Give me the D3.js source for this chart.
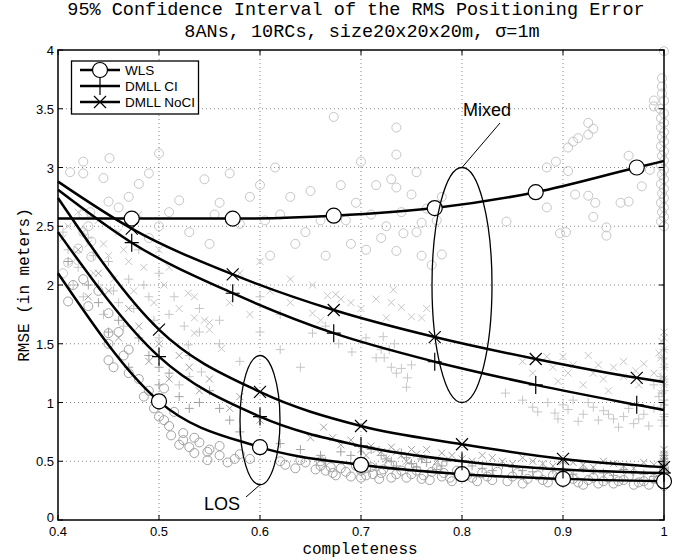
<!DOCTYPE html>
<html>
<head>
<meta charset="utf-8">
<script src="https://cdn.jsdelivr.net/npm/d3@7"></script>
<style>
  body { margin: 0; background: #fff; }
  svg { display: block; }
</style>
</head>
<body>
<div id="chart"></div>
<script>
// fitted curves, LOS scenario (markers every 0.1)
const losX = [0.4, 0.5, 0.6, 0.7, 0.8, 0.9, 1.0];
const losWls = [2.10, 1.01, 0.62, 0.47, 0.39, 0.35, 0.33];
const losCi = [2.45, 1.39, 0.88, 0.63, 0.50, 0.43, 0.40];
const losNoCi = [2.74, 1.62, 1.09, 0.80, 0.645, 0.52, 0.45];

// fitted curves, mixed scenario (markers shifted)
const mixX = [0.4, 0.473, 0.573, 0.673, 0.773, 0.873, 0.973, 1.0];
const mixWls = [2.565, 2.565, 2.565, 2.59, 2.655, 2.79, 3.0, 3.055];
const mixCi = [2.81, 2.36, 1.93, 1.59, 1.347, 1.15, 0.98, 0.936];
const mixNoCi = [2.88, 2.48, 2.09, 1.787, 1.557, 1.37, 1.21, 1.175];

// raw scatter, mixed (light grey)
const mixWlsPts = [
  [0.412,2.96],[0.425,3.05],[0.425,2.95],[0.445,2.91],[0.451,3.08],[0.45,2.71],[0.46,2.66],[0.432,2.62],
  [0.425,2.6],[0.43,2.5],[0.425,2.45],[0.433,2.37],[0.42,2.31],[0.433,2.24],[0.41,2.19],[0.405,2.1],
  [0.47,2.75],[0.48,2.86],[0.49,2.95],[0.5,2.5],[0.51,2.62],[0.52,2.72],[0.5,3.12],[0.53,2.45],
  [0.49,2.4],[0.455,3.5],[0.545,2.9],[0.56,2.7],[0.58,2.52],[0.55,2.35],[0.6,2.85],[0.62,2.6],
  [0.61,2.25],[0.645,2.45],[0.63,2.75],[0.66,2.55],[0.673,3.43],[0.68,2.85],[0.69,2.35],[0.7,3.05],
  [0.71,2.6],[0.72,2.4],[0.73,2.9],[0.74,2.62],[0.735,3.34],[0.735,3.11],[0.755,2.96],[0.735,2.83],
  [0.75,2.77],[0.742,2.44],[0.735,2.29],[0.76,2.25],[0.76,2.53],[0.775,2.55],[0.77,2.17],[0.78,2.26],
  [0.78,2.75],[0.844,2.54],[0.884,2.66],[0.884,3.0],[0.893,3.05],[0.905,2.97],[0.91,3.22],[0.905,3.17],
  [0.915,3.25],[0.925,3.38],[0.93,3.33],[0.925,3.28],[0.912,2.77],[0.925,2.76],[0.932,2.7],[0.897,2.44],
  [0.903,2.45],[0.943,2.49],[0.943,2.42],[0.93,2.58],[0.957,2.7],[0.965,2.71],[0.965,3.1],[0.986,2.98],
  [0.978,2.84],[0.99,3.57],[0.99,3.52],
  [0.555,2.6],[0.57,2.95],[0.59,2.75],[0.605,2.55],[0.615,3.0],[0.635,2.35],[0.65,2.8],[0.665,2.25],
  [0.685,2.55],[0.695,2.7],[0.705,2.3],[0.715,2.85],[0.725,2.5],[0.755,2.45],[0.765,2.65],
  [1.0,3.99],[0.998,3.76],[0.998,3.69],[0.998,3.63],[1.0,3.57],[0.996,3.5],[1.0,3.46],[0.997,3.42],
  [1.0,3.38],[0.997,3.34],[1.0,3.3],[0.998,3.26],[1.0,3.22],[0.997,3.18],[1.0,3.14],[0.998,3.1],
  [1.0,3.06],[0.997,3.02],[1.0,2.98],[0.998,2.94],[1.0,2.9],[0.997,2.86],[1.0,2.82],[0.998,2.78],
  [1.0,2.74],[0.997,2.7],[1.0,2.66],[0.998,2.62],[1.0,2.58],[0.997,2.54],[1.0,2.5]
];
const mixCiPts = [
  [0.41,2.3],[0.42,2.15],[0.43,2.4],[0.44,2.0],[0.45,2.2],[0.46,1.85],[0.47,2.05],[0.48,2.3],
  [0.49,1.9],[0.5,2.1],[0.51,1.75],[0.529,1.49],[0.54,1.6],[0.53,1.4],[0.542,1.26],[0.53,1.22],
  [0.52,1.15],[0.56,1.7],[0.6,1.9],[0.62,1.75],[0.652,1.59],[0.665,1.65],[0.678,1.5],[0.691,1.43],
  [0.705,1.55],[0.715,1.38],[0.72,1.45],[0.73,1.3],[0.745,1.13],[0.75,1.32],[0.722,1.56],[0.733,1.5],
  [0.728,1.45],[0.723,1.38],[0.74,1.29],[0.746,1.21],[0.735,1.25],[0.843,1.08],[0.87,0.96],[0.885,1.0],
  [0.892,0.91],[0.9,0.98],[0.91,1.02],[0.92,0.9],[0.93,0.96],[0.935,0.85],[0.945,0.9],[0.955,0.79],
  [0.96,0.88],[0.97,0.82],[0.98,0.9],
  [0.405,2.45],[0.415,2.0],[0.425,1.9],[0.435,2.25],[0.445,1.75],[0.455,1.95],[0.465,1.65],[0.475,1.8],
  [0.485,2.0],[0.495,1.7],[0.5,1.55],[0.515,1.9],[0.525,1.65],[0.54,1.8],[0.56,1.5],[0.58,1.35],
  [0.6,1.6],[0.62,1.45],[0.64,1.3],
  [0.86,1.02],[0.875,0.92],[0.895,0.86],[0.905,0.94],[0.915,0.84],[0.925,1.0],[0.94,0.93],[0.95,0.86],
  [0.965,0.95],[0.975,0.86],[0.985,0.8],[0.99,0.95],[0.995,1.05],[0.99,1.15],
  [1.0,1.45],[0.998,1.38],[1.0,1.3],[0.997,1.22],[1.0,1.15],[0.998,1.08],[1.0,1.02],[0.997,0.96],
  [1.0,0.9],[0.998,0.85],[1.0,0.8],[1.0,1.2],[1.0,1.1],[1.0,0.98],[1.0,0.88]
];
const mixNoCiPts = [
  [0.41,2.5],[0.42,2.62],[0.43,2.35],[0.44,2.55],[0.45,2.25],[0.46,2.45],[0.47,2.2],[0.48,2.6],
  [0.5,2.3],[0.51,2.15],[0.529,1.93],[0.535,1.9],[0.535,1.72],[0.55,1.68],[0.55,1.62],[0.535,1.59],
  [0.562,1.46],[0.58,2.1],[0.6,2.2],[0.63,2.05],[0.652,2.0],[0.652,1.76],[0.667,1.91],[0.675,1.92],
  [0.68,1.88],[0.69,1.85],[0.7,1.8],[0.715,1.88],[0.73,1.85],[0.732,1.96],[0.74,1.81],[0.75,1.73],
  [0.76,1.72],[0.765,1.8],[0.725,1.72],[0.884,1.39],[0.89,1.3],[0.9,1.39],[0.91,1.32],[0.925,1.4],
  [0.93,1.25],[0.94,1.2],[0.95,1.3],[0.96,1.22],[0.972,1.27],[0.98,1.33],
  [0.405,2.4],[0.415,2.2],[0.425,2.45],[0.435,2.1],[0.445,2.35],[0.455,2.05],[0.465,2.3],[0.475,1.95],
  [0.485,2.15],[0.495,1.85],[0.505,2.0],[0.52,1.8],[0.545,1.7],[0.57,1.85],[0.59,1.75],[0.61,1.95],
  [0.63,1.85],[0.66,1.7],
  [0.86,1.35],[0.87,1.25],[0.895,1.18],[0.905,1.25],[0.92,1.15],[0.935,1.32],[0.945,1.1],[0.96,1.35],
  [0.975,1.15],[0.99,1.25],[0.995,1.42],
  [1.0,1.6],[0.998,1.52],[1.0,1.45],[0.997,1.38],[1.0,1.3],[0.998,1.22],[1.0,1.15],[0.997,1.08],[1.0,1.0],
  [1.0,1.55],[1.0,1.35],[1.0,1.2]
];

// raw scatter, LOS (darker grey)
const losWlsPts = [
  [0.41,1.86],[0.425,2.05],[0.45,1.76],[0.45,1.59],[0.45,1.5],[0.45,1.36],[0.455,1.3],[0.47,1.45],
  [0.48,1.2],[0.49,1.1],[0.5,0.98],[0.5,0.88],[0.51,0.8],[0.515,0.92],[0.524,0.74],[0.524,0.68],
  [0.535,0.7],[0.53,0.62],[0.535,0.57],[0.548,0.58],[0.548,0.51],[0.56,0.55],[0.568,0.49],[0.575,0.52],
  [0.46,1.6],[0.465,1.4],[0.47,1.25],[0.485,1.05],[0.495,0.95],[0.505,0.85],[0.512,0.72],[0.52,0.64],
  [0.54,0.66],[0.55,0.6],[0.56,0.63],[0.58,0.56],[0.59,0.52],[0.505,1.12],[0.44,1.95],[0.43,1.82],[0.415,2.0],
  [0.62,0.5],[0.64,0.51],[0.66,0.46],[0.665,0.42],[0.672,0.4],[0.68,0.44],[0.69,0.37],[0.7,0.42],
  [0.625,0.47],[0.635,0.44],[0.645,0.49],[0.655,0.43],[0.66,0.5],[0.67,0.45],[0.675,0.38],[0.685,0.41],
  [0.695,0.46],[0.7,0.36],
  [0.705,0.38],[0.71,0.45],[0.72,0.4],[0.73,0.36],[0.74,0.42],[0.75,0.39],[0.76,0.35],[0.77,0.41],
  [0.705,0.44],[0.712,0.39],[0.718,0.35],[0.722,0.43],[0.728,0.47],[0.735,0.39],[0.745,0.36],[0.748,0.45],
  [0.755,0.42],[0.762,0.38],[0.768,0.34],[0.775,0.44],[0.782,0.4],[0.788,0.36],[0.795,0.42],
  [0.78,0.37],[0.79,0.33],[0.81,0.36],[0.82,0.4],[0.83,0.34],[0.85,0.37],[0.86,0.31],[0.88,0.34],
  [0.805,0.38],[0.815,0.33],[0.825,0.37],[0.835,0.41],[0.845,0.33],[0.855,0.4],[0.865,0.35],[0.875,0.38],
  [0.885,0.32],[0.895,0.36],
  [0.89,0.38],[0.9,0.32],[0.91,0.35],[0.92,0.3],[0.93,0.36],[0.94,0.33],[0.95,0.31],[0.96,0.34],
  [0.905,0.38],[0.915,0.32],[0.925,0.34],[0.935,0.31],[0.945,0.36],[0.955,0.33],[0.965,0.37],[0.975,0.32],
  [0.985,0.3],[0.995,0.34],
  [0.97,0.3],[0.98,0.33],[0.99,0.35],[1.0,0.31],[1.0,0.36],[1.0,0.4],[1.0,0.33],[1.0,0.29],[1.0,0.38],[1.0,0.44]
];
const losCiPts = [
  [0.41,2.2],[0.43,2.0],[0.44,1.85],[0.46,1.7],[0.48,1.55],[0.49,1.4],[0.5,1.3],[0.51,1.25],
  [0.52,1.05],[0.54,1.0],[0.56,0.95],[0.57,0.85],[0.64,0.6],[0.66,0.55],[0.68,0.58],[0.7,0.52],
  [0.45,1.6],[0.47,1.3],[0.5,1.15],[0.53,0.95],[0.55,1.1],[0.58,0.75],[0.62,0.65],[0.665,0.5],
  [0.69,0.55],[0.705,0.48],[0.715,0.45],[0.725,0.52],[0.735,0.46],[0.745,0.53],[0.755,0.45],[0.765,0.49],
  [0.775,0.43],[0.785,0.5],[0.81,0.46],[0.83,0.42],[0.85,0.45],[0.87,0.41],[0.89,0.43],[0.91,0.39],
  [0.71,0.6],[0.72,0.55],[0.73,0.5],[0.74,0.57],[0.75,0.48],[0.76,0.52],[0.78,0.46],[0.8,0.5],
  [0.82,0.44],[0.84,0.47],[0.86,0.42],[0.88,0.45],[0.9,0.41],[0.92,0.44],[0.94,0.4],[0.96,0.43],
  [0.93,0.42],[0.95,0.38],[0.97,0.41],[0.99,0.37],
  [0.98,0.39],[1.0,0.42],[1.0,0.47],[1.0,0.52],[1.0,0.38],[1.0,0.44],[1.0,0.5],[1.0,0.55]
];
const losNoCiPts = [
  [0.42,2.3],[0.44,2.1],[0.45,1.95],[0.47,1.8],[0.48,1.65],[0.5,1.5],[0.52,1.4],[0.53,1.3],
  [0.55,1.2],[0.58,1.05],[0.663,0.79],[0.672,0.7],[0.68,0.64],[0.69,0.68],[0.7,0.6],[0.71,0.63],
  [0.43,1.9],[0.46,1.55],[0.49,1.35],[0.51,1.2],[0.54,1.1],[0.57,0.95],[0.6,0.85],[0.65,0.7],
  [0.705,0.55],[0.715,0.6],[0.725,0.52],[0.735,0.58],[0.745,0.5],[0.755,0.56],[0.765,0.6],[0.775,0.5],
  [0.79,0.55],[0.81,0.5],[0.83,0.53],[0.85,0.48],[0.87,0.5],[0.89,0.46],[0.91,0.49],[0.93,0.45],
  [0.72,0.58],[0.73,0.62],[0.74,0.55],[0.75,0.6],[0.76,0.53],[0.78,0.57],[0.8,0.52],[0.82,0.55],
  [0.84,0.5],[0.86,0.53],[0.88,0.48],[0.9,0.5],[0.92,0.47],[0.94,0.5],[0.96,0.46],[0.98,0.49],
  [0.95,0.48],[0.97,0.44],[0.99,0.47],
  [1.0,0.47],[1.0,0.52],[1.0,0.56],[1.0,0.44],[1.0,0.5],[1.0,0.54],[1.0,0.6]
];

const xTicks = [0.4, 0.5, 0.6, 0.7, 0.8, 0.9, 1];
const yTicks = [0, 0.5, 1, 1.5, 2, 2.5, 3, 3.5, 4];
const legendNames = ['WLS', 'DMLL CI', 'DMLL NoCI'];

const W = 689, H = 560;
const m = { left: 58, right: 25, top: 50, bottom: 40 };
const x = d3.scaleLinear().domain([0.4, 1]).range([m.left, W - m.right]);
const y = d3.scaleLinear().domain([0, 4]).range([H - m.bottom, m.top]);

const svg = d3.select('#chart').append('svg').attr('width', W).attr('height', H);
const mono = "'Liberation Mono', 'Courier New', monospace";
const sans = "'Liberation Sans', Arial, sans-serif";

// clip for scatter
svg.append('clipPath').attr('id', 'plotclip').append('rect')
  .attr('x', m.left - 8).attr('y', m.top - 8)
  .attr('width', W - m.right - m.left + 16).attr('height', H - m.bottom - m.top + 16);

// grid
const grid = svg.append('g').attr('stroke', '#555').attr('stroke-width', 0.7).attr('stroke-dasharray', '1,3');
grid.selectAll('line.gx').data(xTicks.slice(1, -1)).join('line')
  .attr('x1', d => x(d)).attr('x2', d => x(d)).attr('y1', y(0)).attr('y2', y(4));
grid.selectAll('line.gy').data(yTicks.slice(1, -1)).join('line')
  .attr('y1', d => y(d)).attr('y2', d => y(d)).attr('x1', x(0.4)).attr('x2', x(1));

// scatter
const plot = svg.append('g').attr('clip-path', 'url(#plotclip)');
function drawCircles(pts, color) {
  plot.append('g').selectAll('circle').data(pts).join('circle')
    .attr('cx', d => x(d[0])).attr('cy', d => y(d[1])).attr('r', 4.5)
    .attr('fill', 'none').attr('stroke', color).attr('stroke-width', 1);
}
function drawPlus(pts, color, s) {
  plot.append('g').selectAll('path').data(pts).join('path')
    .attr('d', d => `M${x(d[0]) - s},${y(d[1])}h${2 * s}M${x(d[0])},${y(d[1]) - s}v${2 * s}`)
    .attr('stroke', color).attr('stroke-width', 1).attr('fill', 'none');
}
function drawCross(pts, color, s) {
  plot.append('g').selectAll('path').data(pts).join('path')
    .attr('d', d => `M${x(d[0]) - s},${y(d[1]) - s}l${2 * s},${2 * s}M${x(d[0]) - s},${y(d[1]) + s}l${2 * s},${-2 * s}`)
    .attr('stroke', color).attr('stroke-width', 1).attr('fill', 'none');
}
const light = '#c6c6c6', dark = '#a2a2a2';
drawCircles(mixWlsPts, light);
drawPlus(mixCiPts, light, 4.5);
drawCross(mixNoCiPts, light, 3.5);
drawCircles(losWlsPts, dark);
drawPlus(losCiPts, dark, 4.5);
drawCross(losNoCiPts, dark, 3.5);

// curves
const line = d3.line().x(d => x(d[0])).y(d => y(d[1])).curve(d3.curveMonotoneX);
const curves = [
  { xs: mixX, ys: mixWls, mk: 'o' }, { xs: mixX, ys: mixCi, mk: '+' }, { xs: mixX, ys: mixNoCi, mk: 'x' },
  { xs: losX, ys: losWls, mk: 'o' }, { xs: losX, ys: losCi, mk: '+' }, { xs: losX, ys: losNoCi, mk: 'x' }
];
const cg = svg.append('g');
curves.forEach(c => {
  const pts = c.xs.map((v, i) => [v, c.ys[i]]);
  cg.append('path').datum(pts).attr('d', line)
    .attr('fill', 'none').attr('stroke', '#000').attr('stroke-width', 2.5);
});
function marker(g, mk, cx, cy) {
  if (mk === 'o') {
    g.append('circle').attr('cx', cx).attr('cy', cy).attr('r', 7.5)
      .attr('fill', '#fff').attr('stroke', '#000').attr('stroke-width', 1.2);
  } else if (mk === '+') {
    g.append('path').attr('d', `M${cx - 7},${cy}h14M${cx},${cy - 9}v18`)
      .attr('stroke', '#000').attr('stroke-width', 1.2);
  } else {
    g.append('path').attr('d', `M${cx - 6},${cy - 6}l12,12M${cx - 6},${cy + 6}l12,-12`)
      .attr('stroke', '#000').attr('stroke-width', 1.2);
  }
}
curves.forEach(c => {
  c.xs.forEach((v, i) => {
    if (v === 0.4 || (c.xs === mixX && v === 1.0)) return;
    marker(cg, c.mk, x(v), y(c.ys[i]));
  });
});

// axes box and ticks
const ax = svg.append('g');
ax.append('rect').attr('x', x(0.4)).attr('y', y(4)).attr('width', x(1) - x(0.4)).attr('height', y(0) - y(4))
  .attr('fill', 'none').attr('stroke', '#000').attr('stroke-width', 1.5);
const tl = 5;
xTicks.forEach(t => {
  ax.append('line').attr('x1', x(t)).attr('x2', x(t)).attr('y1', y(0)).attr('y2', y(0) - tl).attr('stroke', '#000');
  ax.append('line').attr('x1', x(t)).attr('x2', x(t)).attr('y1', y(4)).attr('y2', y(4) + tl).attr('stroke', '#000');
});
yTicks.forEach(t => {
  ax.append('line').attr('y1', y(t)).attr('y2', y(t)).attr('x1', x(0.4)).attr('x2', x(0.4) + tl).attr('stroke', '#000');
  ax.append('line').attr('y1', y(t)).attr('y2', y(t)).attr('x1', x(1)).attr('x2', x(1) - tl).attr('stroke', '#000');
});
ax.selectAll('text.xt').data(xTicks).join('text')
  .attr('x', d => x(d)).attr('y', y(0) + 16).attr('text-anchor', 'middle')
  .style('font-family', sans).style('font-size', '13px').text(d => d);
ax.selectAll('text.yt').data(yTicks).join('text')
  .attr('x', x(0.4) - 4).attr('y', d => y(d) + (d === 0 ? 2 : 5)).attr('text-anchor', 'end')
  .style('font-family', sans).style('font-size', '13px').text(d => d);

// titles and labels
svg.append('text').attr('x', 356).attr('y', 15).attr('text-anchor', 'middle')
  .style('font-family', mono).style('font-size', '18.5px')
  .text('95% Confidence Interval of the RMS Positioning Error');
svg.append('text').attr('x', 362).attr('y', 36.5).attr('text-anchor', 'middle')
  .style('font-family', mono).style('font-size', '18.5px')
  .text('8ANs, 10RCs, size20x20x20m, σ=1m');
svg.append('text').attr('x', 360).attr('y', 554).attr('text-anchor', 'middle')
  .style('font-family', mono).style('font-size', '16px').text('completeness');
svg.append('text').attr('transform', 'translate(29,285) rotate(-90)').attr('text-anchor', 'middle')
  .style('font-family', mono).style('font-size', '16px').text('RMSE (in meters)');

// annotations
const an = svg.append('g').attr('fill', 'none').attr('stroke', '#000').attr('stroke-width', 1.3);
an.append('ellipse').attr('cx', x(0.8)).attr('cy', y(2)).attr('rx', 30).attr('ry', y(1) - y(2));
an.append('line').attr('x1', x(0.8)).attr('y1', y(3)).attr('x2', 500).attr('y2', 123).attr('stroke-width', 1);
svg.append('text').attr('x', 463).attr('y', 116).style('font-family', sans).style('font-size', '18px').text('Mixed');
an.append('ellipse').attr('cx', x(0.6)).attr('cy', (y(1.4) + y(0.3)) / 2).attr('rx', 20).attr('ry', (y(0.3) - y(1.4)) / 2);
an.append('line').attr('x1', x(0.6)).attr('y1', y(0.3)).attr('x2', 246).attr('y2', 497).attr('stroke-width', 1);
svg.append('text').attr('x', 204).attr('y', 510).style('font-family', sans).style('font-size', '18px').text('LOS');

// legend
const lg = svg.append('g');
lg.append('rect').attr('x', 71.5).attr('y', 61).attr('width', 127).attr('height', 53)
  .attr('fill', '#fff').attr('stroke', '#000').attr('stroke-width', 1.3);
['o', '+', 'x'].forEach((mk, i) => {
  const ly = 70 + i * 16;
  lg.append('line').attr('x1', 80).attr('x2', 120).attr('y1', ly).attr('y2', ly).attr('stroke', '#000').attr('stroke-width', 2.5);
  marker(lg, mk, 100, ly);
  lg.append('text').attr('x', 125).attr('y', ly + 5).style('font-family', sans).style('font-size', '13.5px').text(legendNames[i]);
});
</script>
</body>
</html>
